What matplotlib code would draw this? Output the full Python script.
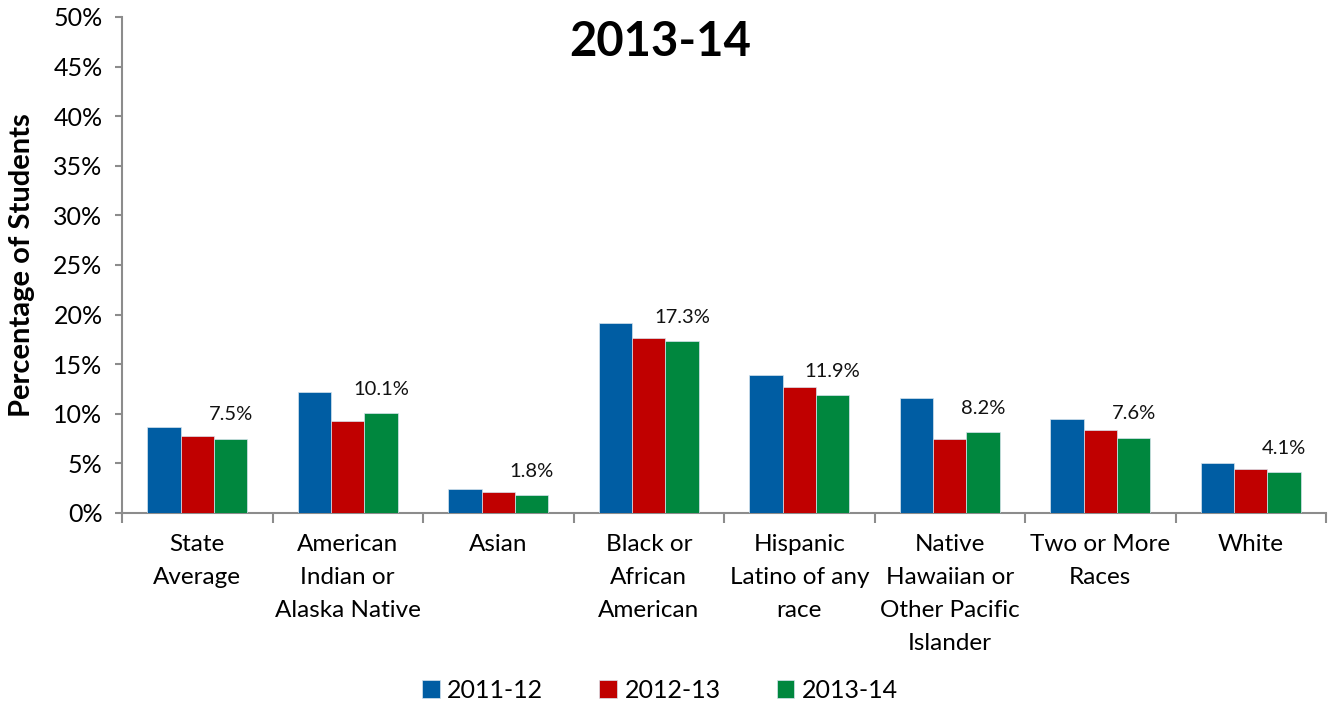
import matplotlib
matplotlib.use("Agg")
import matplotlib.pyplot as plt
from matplotlib.ticker import FixedLocator, PercentFormatter
import numpy as np

plt.rcParams['font.family'] = ['Lato', 'DejaVu Sans']

categories = [
    "State\nAverage",
    "American\nIndian or\nAlaska Native",
    "Asian",
    "Black or\nAfrican\nAmerican",
    "Hispanic\nLatino of any\nrace",
    "Native\nHawaiian or\nOther Pacific\nIslander",
    "Two or More\nRaces",
    "White",
]
series_names = ["2011-12", "2012-13", "2013-14"]
values_2011_12 = [8.7, 12.2, 2.4, 19.2, 13.9, 11.6, 9.5, 5.0]
values_2012_13 = [7.8, 9.3, 2.1, 17.6, 12.7, 7.5, 8.4, 4.4]
values_2013_14 = [7.5, 10.1, 1.8, 17.3, 11.9, 8.2, 7.6, 4.1]
colors = ["#005DA3", "#C00000", "#00873E"]
y_ticks = [0, 5, 10, 15, 20, 25, 30, 35, 40, 45, 50]

W, H = 1337, 704
fig = plt.figure(figsize=(W / 100, H / 100), dpi=100)
ax = fig.add_axes([122 / W, 1 - 513 / H, (1326 - 122) / W, (513 - 17) / H])

x = np.arange(len(categories))
bw = 0.222
series = [values_2011_12, values_2012_13, values_2013_14]
for i, (name, vals, col) in enumerate(zip(series_names, series, colors)):
    ax.bar(x + (i - 1) * bw, vals, width=bw, color=col, label=name,
           edgecolor="#d8e4ee", linewidth=0.5, zorder=3)

# value labels above the latest-year bars
for xi, v in zip(x, values_2013_14):
    ax.annotate(f"{v:.1f}%", (xi + bw, v), xytext=(0, 17), textcoords="offset points",
                ha="center", va="center", fontsize=14.5, color="#111111")

ax.set_xlim(-0.5, len(categories) - 0.5)
ax.set_ylim(0, 50)
ax.yaxis.set_major_locator(FixedLocator(y_ticks))
ax.yaxis.set_major_formatter(PercentFormatter(decimals=0))
ax.set_xticks(x)
ax.set_xticklabels(categories, fontsize=17.5, linespacing=1.7, va="top")
ax.xaxis.set_minor_locator(FixedLocator(np.arange(-0.5, len(categories), 1.0)))

gray = "#8c8c8c"
for s in ["top", "right"]:
    ax.spines[s].set_visible(False)
for s in ["left", "bottom"]:
    ax.spines[s].set_color(gray)
    ax.spines[s].set_linewidth(1.5)
ax.tick_params(axis="x", which="major", length=0, pad=15)
ax.tick_params(axis="x", which="minor", length=7, width=1.5, color=gray)
ax.tick_params(axis="y", which="major", length=5, width=1.5, color=gray, labelsize=18, pad=9)

ax.set_ylabel("Percentage of Students", fontsize=21, fontweight="bold")
ax.yaxis.set_label_coords(-0.072, 0.5)

fig.text(660 / W, 1 - 42 / H, "2013-14", ha="center", va="center",
         fontsize=34, fontweight="bold")

ax.legend(loc="center", bbox_to_anchor=(660 / W, 1 - 690 / H), bbox_transform=fig.transFigure,
          ncol=3, frameon=False, fontsize=18, handlelength=0.7, handleheight=0.7,
          handletextpad=0.3, columnspacing=2.25)

fig.savefig("out.png", dpi=100)
